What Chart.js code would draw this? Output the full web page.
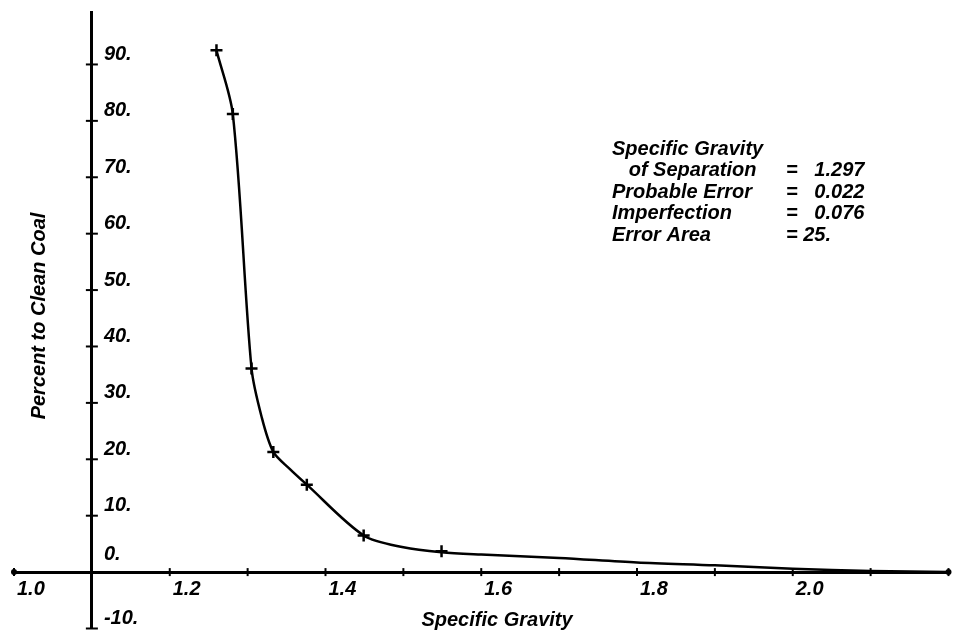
<!DOCTYPE html>
<html>
<head>
<meta charset="utf-8">
<script src="https://cdn.jsdelivr.net/npm/chart.js@4/dist/chart.umd.min.js"></script>
<style>
  html, body { margin: 0; padding: 0; background: #fff; }
  #wrap { width: 957px; height: 637px; }
</style>
</head>
<body>
<div id="wrap"><canvas id="chart" width="957" height="637"></canvas></div>
<script>
// measured points (crosses on the plot)
const gravity = [1.260, 1.281, 1.305, 1.333, 1.376, 1.449, 1.549];
const percent = [92.5, 81.2, 36.1, 21.3, 15.5, 6.5, 3.7];

// the drawn curve
const curveX = [1.260, 1.281, 1.305, 1.318, 1.333, 1.354, 1.376, 1.449, 1.500, 1.549, 1.600, 1.700, 1.800, 1.900, 2.000, 2.100, 2.200];
const curveY = [92.5, 81.2, 36.1, 27.5, 21.3, 18.3, 15.5, 6.5, 4.4, 3.5, 3.1, 2.5, 1.7, 1.2, 0.6, 0.2, 0.0];

const xTickValues = [1.0, 1.2, 1.4, 1.6, 1.8, 2.0];
const xTickLabels = ["1.0", "1.2", "1.4", "1.6", "1.8", "2.0"];
const yTickValues = [-10, 0, 10, 20, 30, 40, 50, 60, 70, 80, 90];
const yTickLabels = ["-10.", "0.", "10.", "20.", "30.", "40.", "50.", "60.", "70.", "80.", "90."];

const infoNames = ["Specific Gravity", "   of Separation", "Probable Error", "Imperfection", "Error Area"];
const infoValues = ["", "=   1.297", "=   0.022", "=   0.076", "= 25."];

const FONT = 'bold italic 20px "Liberation Sans", Arial, sans-serif';

function toPoints(xs, ys) {
    return xs.map((x, i) => ({ x: x, y: ys[i] }));
}

// axis decorations, labels and the result box
const decorations = {
    id: 'decorations',
    afterDraw(chart) {
        const ctx = chart.ctx;
        const xs = chart.scales.x, ys = chart.scales.y;
        const x0 = xs.getPixelForValue(1.1);
        const y0 = ys.getPixelForValue(0);

        ctx.save();
        ctx.strokeStyle = '#000';
        ctx.fillStyle = '#000';
        ctx.lineWidth = 2;

        // tick crosses on x axis (every 0.1)
        for (let v = 1.0; v <= 2.21; v += 0.1) {
            const px = xs.getPixelForValue(v);
            ctx.beginPath();
            ctx.moveTo(px, y0 - 4);
            ctx.lineTo(px, y0 + 4);
            ctx.stroke();
        }
        // tick crosses on y axis
        yTickValues.forEach(v => {
            const py = ys.getPixelForValue(v);
            ctx.beginPath();
            ctx.moveTo(x0 - 6, py);
            ctx.lineTo(x0 + 6, py);
            ctx.stroke();
        });
        // end dots of the x axis
        [1.0, 2.2].forEach(v => {
            ctx.beginPath();
            ctx.arc(xs.getPixelForValue(v), y0, 3, 0, Math.PI * 2);
            ctx.fill();
        });

        ctx.font = FONT;
        ctx.textBaseline = 'middle';
        ctx.textAlign = 'left';

        xTickValues.forEach((v, i) => {
            ctx.fillText(xTickLabels[i], xs.getPixelForValue(v) + 3, y0 + 17);
        });
        yTickValues.forEach((v, i) => {
            const lift = v === 0 ? 18 : 10;
            ctx.fillText(yTickLabels[i], x0 + 12, ys.getPixelForValue(v) - lift);
        });

        // axis titles
        ctx.textAlign = 'center';
        ctx.fillText('Specific Gravity', 497, 620);
        ctx.save();
        ctx.translate(39, 316);
        ctx.rotate(-Math.PI / 2);
        ctx.fillText('Percent to Clean Coal', 0, 0);
        ctx.restore();

        // result box
        ctx.textAlign = 'left';
        infoNames.forEach((name, i) => {
            const ty = 149 + i * 21.5;
            ctx.fillText(name, 612, ty);
            if (infoValues[i]) ctx.fillText(infoValues[i], 786, ty);
        });
        ctx.restore();
    }
};

const ctx = document.getElementById('chart').getContext('2d');
const myChart = new Chart(ctx, {
    type: 'scatter',
    data: {
        datasets: [{
            label: 'curve',
            data: toPoints(curveX, curveY),
            showLine: true,
            borderColor: '#000',
            borderWidth: 2.5,
            pointRadius: 0,
            tension: 0.3,
            fill: false
        }, {
            label: 'points',
            data: toPoints(gravity, percent),
            pointStyle: 'cross',
            pointRadius: 6,
            borderColor: '#000',
            borderWidth: 2.5,
            showLine: false
        }]
    },
    options: {
        responsive: false,
        animation: false,
        devicePixelRatio: 1,
        layout: { padding: { left: 14, right: 7, top: 12, bottom: 4 } },
        plugins: {
            legend: { display: false },
            tooltip: { enabled: false }
        },
        scales: {
            x: {
                type: 'linear',
                min: 1.0,
                max: 2.2,
                position: { y: 0 },
                ticks: { display: false, stepSize: 0.1 },
                grid: { drawOnChartArea: false, drawTicks: false },
                border: { display: true, color: '#000', width: 3 }
            },
            y: {
                type: 'linear',
                min: -10,
                max: 99.3,
                position: { x: 1.1 },
                ticks: { display: false, stepSize: 10, includeBounds: false },
                grid: { drawOnChartArea: false, drawTicks: false },
                border: { display: true, color: '#000', width: 3 }
            }
        }
    },
    plugins: [decorations]
});
</script>
</body>
</html>
